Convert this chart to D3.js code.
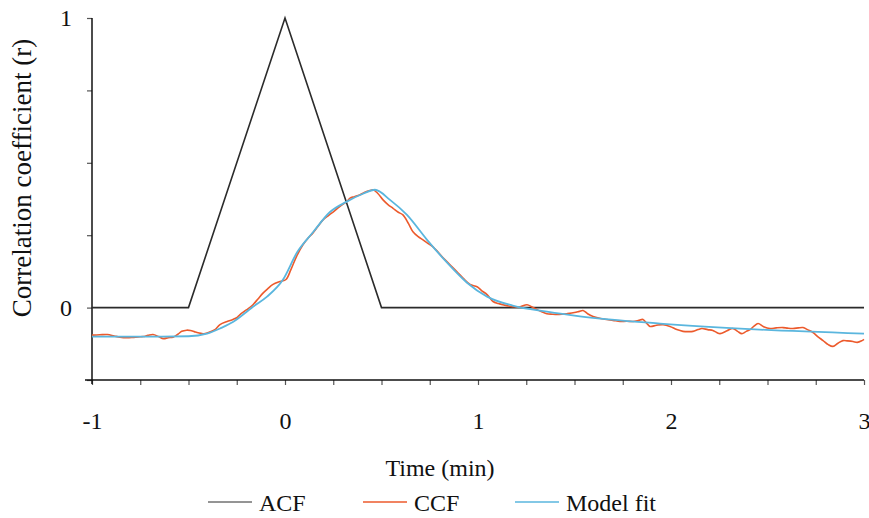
<!DOCTYPE html>
<html>
<head>
<meta charset="utf-8">
<script src="https://cdn.jsdelivr.net/npm/d3@7"></script>
<style>
  body { margin: 0; background: #fff; }
  svg { display: block; }
  svg text { font-family: "Liberation Serif", "Times New Roman", Times, serif; }
</style>
</head>
<body>
<svg id="chart" width="869" height="518"></svg>
<script>
// Data
const acfTime = [-1, -0.5, 0, 0.5, 3];
const acfR = [0, 0, 1, 0, 0];

const ccfTime = [-1, -0.96, -0.92, -0.885, -0.855, -0.82, -0.79, -0.76, -0.735, -0.71, -0.684, -0.655, -0.63, -0.605, -0.58,
  -0.555, -0.535, -0.51, -0.49, -0.47, -0.456, -0.435, -0.415, -0.39, -0.363, -0.337, -0.3, -0.27, -0.25, -0.233, -0.2,
  -0.166, -0.14, -0.114, -0.09, -0.062, -0.026, 0.005, 0.03, 0.06, 0.093, 0.12, 0.145, 0.17, 0.197, 0.225, 0.249, 0.285,
  0.32, 0.337, 0.36, 0.389, 0.42, 0.44, 0.456, 0.48, 0.508, 0.535, 0.56, 0.585, 0.611, 0.64, 0.663, 0.69, 0.715, 0.74,
  0.767, 0.795, 0.819, 0.855, 0.891, 0.925, 0.959, 0.995, 1.02, 1.047, 1.078, 1.105, 1.13, 1.155, 1.18, 1.215, 1.254,
  1.28, 1.306, 1.33, 1.357, 1.385, 1.41, 1.435, 1.46, 1.5, 1.525, 1.544, 1.57, 1.596, 1.63, 1.668, 1.7, 1.736, 1.77,
  1.803, 1.83, 1.855, 1.875, 1.891, 1.925, 1.959, 1.995, 2.03, 2.062, 2.09, 2.114, 2.14, 2.16, 2.19, 2.217, 2.237,
  2.254, 2.29, 2.32, 2.345, 2.367, 2.39, 2.41, 2.43, 2.451, 2.48, 2.513, 2.545, 2.58, 2.605, 2.632, 2.66, 2.684, 2.71,
  2.736, 2.76, 2.788, 2.815, 2.839, 2.865, 2.891, 2.915, 2.943, 2.965, 2.99, 3];
const ccfR = [-0.095, -0.094, -0.093, -0.098, -0.102, -0.104, -0.103, -0.101, -0.1, -0.096, -0.093, -0.1, -0.107, -0.104, -0.102,
  -0.092, -0.082, -0.078, -0.079, -0.083, -0.086, -0.089, -0.09, -0.084, -0.076, -0.059, -0.048, -0.041, -0.035, -0.024, -0.008,
  0.01, 0.03, 0.05, 0.065, 0.08, 0.09, 0.097, 0.13, 0.177, 0.217, 0.24, 0.258, 0.28, 0.303, 0.318, 0.33, 0.35,
  0.366, 0.378, 0.383, 0.39, 0.4, 0.404, 0.407, 0.395, 0.372, 0.355, 0.343, 0.33, 0.32, 0.29, 0.262, 0.245, 0.234, 0.222,
  0.21, 0.19, 0.172, 0.148, 0.124, 0.1, 0.08, 0.072, 0.058, 0.045, 0.021, 0.014, 0.01, 0.006, 0.003, 0.002, 0.01,
  0.002, -0.007, -0.014, -0.021, -0.023, -0.024, -0.023, -0.021, -0.017, -0.013, -0.01, -0.022, -0.031, -0.037, -0.041, -0.044, -0.048, -0.047,
  -0.048, -0.045, -0.041, -0.055, -0.065, -0.061, -0.059, -0.065, -0.076, -0.082, -0.083, -0.082, -0.076, -0.072, -0.076, -0.079, -0.086,
  -0.09, -0.08, -0.072, -0.082, -0.09, -0.082, -0.076, -0.064, -0.055, -0.066, -0.072, -0.07, -0.069, -0.071, -0.072, -0.07, -0.069, -0.077,
  -0.086, -0.1, -0.114, -0.128, -0.134, -0.123, -0.114, -0.115, -0.117, -0.12, -0.114, -0.11];

const fitTime = [-1, -0.7, -0.5, -0.404, -0.33, -0.27, -0.2, -0.166, -0.093, -0.01, 0.062, 0.145, 0.233, 0.32, 0.404, 0.466,
  0.544, 0.632, 0.736, 0.84, 0.943, 1.047, 1.18, 1.357, 1.528, 1.943, 2.46, 3];
const fitR = [-0.1, -0.1, -0.099, -0.09, -0.07, -0.05, -0.015, 0.003, 0.038, 0.097, 0.19, 0.26, 0.33, 0.366, 0.393, 0.407,
  0.372, 0.32, 0.234, 0.155, 0.086, 0.038, 0.007, -0.014, -0.03, -0.055, -0.076, -0.09];

const xTicks = [-1, -0.75, -0.5, -0.25, 0, 0.25, 0.5, 0.75, 1, 1.25, 1.5, 1.75, 2, 2.25, 2.5, 2.75, 3];
const xLabels = ['-1', '0', '1', '2', '3'];
const yTicks = [-0.25, 0, 0.25, 0.5, 0.75, 1];
const yLabels = ['0', '1'];

const legendNames = ['ACF', 'CCF', 'Model fit'];
const colors = ['#2b2b2b', '#ec5a2c', '#5ab6de'];

const serif = '"Liberation Serif", "Times New Roman", Times, serif';

// Layout
const svg = d3.select('#chart');
const x = d3.scaleLinear().domain([-1, 3]).range([92, 864]);
const y = d3.scaleLinear().domain([-0.25, 1]).range([380, 18]);

// plain hyphen labels, only at whole numbers
const label = (list) => d => list.includes(String(d)) ? String(d) : '';

// Axes
const xAxis = svg.append('g')
  .attr('transform', `translate(0,${y(-0.25)})`)
  .call(d3.axisBottom(x).tickValues(xTicks).tickSize(5).tickPadding(27).tickFormat(label(xLabels)));
xAxis.attr('font-family', serif);
xAxis.select('.domain').remove();
xAxis.selectAll('line').attr('stroke', '#555').attr('stroke-width', 1.2);
xAxis.selectAll('text').attr('font-size', 24).attr('fill', '#111');

const yAxis = svg.append('g')
  .attr('transform', `translate(${x(-1)},0)`)
  .call(d3.axisLeft(y).tickValues(yTicks).tickSize(5).tickPadding(15).tickFormat(label(yLabels)));
yAxis.attr('font-family', serif);
yAxis.select('.domain').remove();
yAxis.selectAll('line').attr('stroke', '#555').attr('stroke-width', 1.2);
yAxis.selectAll('text').attr('font-size', 24).attr('fill', '#111');

// axis lines
svg.append('line')
  .attr('x1', x(-1) - 7).attr('x2', x(3))
  .attr('y1', y(-0.25)).attr('y2', y(-0.25))
  .attr('stroke', '#111').attr('stroke-width', 1.5);
svg.append('line')
  .attr('x1', x(-1)).attr('x2', x(-1))
  .attr('y1', y(1)).attr('y2', y(-0.25) + 4)
  .attr('stroke', '#111').attr('stroke-width', 1.5);

// Lines
const zip = (a, b) => a.map((t, i) => [t, b[i]]);

svg.append('path')
  .datum(zip(acfTime, acfR))
  .attr('fill', 'none').attr('stroke', colors[0]).attr('stroke-width', 1.6)
  .attr('d', d3.line().x(d => x(d[0])).y(d => y(d[1])));

svg.append('path')
  .datum(zip(ccfTime, ccfR))
  .attr('fill', 'none').attr('stroke', colors[1]).attr('stroke-width', 1.6)
  .attr('d', d3.line().x(d => x(d[0])).y(d => y(d[1])).curve(d3.curveCatmullRom));

svg.append('path')
  .datum(zip(fitTime, fitR))
  .attr('fill', 'none').attr('stroke', colors[2]).attr('stroke-width', 1.8)
  .attr('d', d3.line().x(d => x(d[0])).y(d => y(d[1])).curve(d3.curveMonotoneX));

// Titles
svg.append('text')
  .attr('x', 440).attr('y', 476)
  .attr('text-anchor', 'middle').attr('font-size', 24).attr('fill', '#111')
  .text('Time (min)');

svg.append('text')
  .attr('transform', 'translate(31,178) rotate(-90)')
  .attr('text-anchor', 'middle').attr('font-size', 27).attr('fill', '#111')
  .text('Correlation coefficient (r)');

// Legend
const legendX = [208, 363, 515];
const legend = svg.append('g');
legendNames.forEach((name, i) => {
  legend.append('line')
    .attr('x1', legendX[i]).attr('x2', legendX[i] + 44)
    .attr('y1', 502).attr('y2', 502)
    .attr('stroke', colors[i]).attr('stroke-width', i === 0 ? 1 : 1.3);
  legend.append('text')
    .attr('x', legendX[i] + 51).attr('y', 511)
    .attr('font-size', 24).attr('fill', '#111')
    .text(name);
});
</script>
</body>
</html>
